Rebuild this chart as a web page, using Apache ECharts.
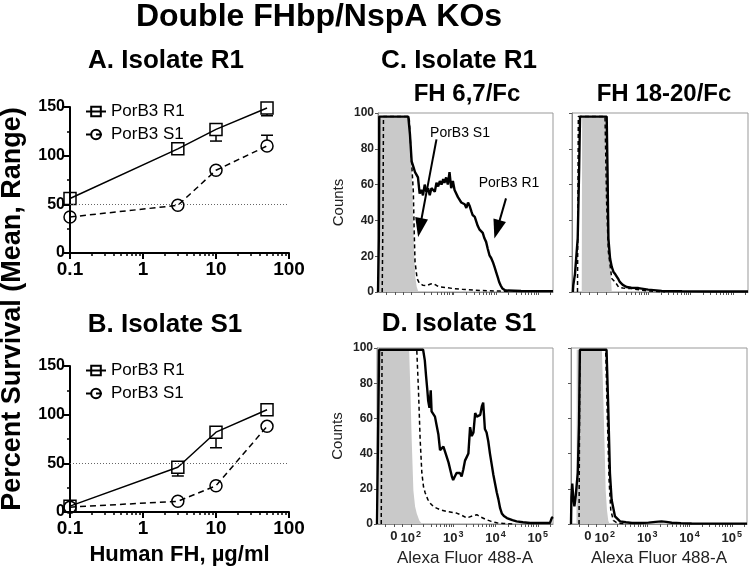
<!DOCTYPE html>
<html>
<head>
<meta charset="utf-8">
<script src="https://cdn.jsdelivr.net/npm/echarts@6/dist/echarts.min.js"></script>
<style>
html,body{margin:0;padding:0;background:#fff;}
#c{width:750px;height:571px;}
</style>
</head>
<body>
<div id="c"></div>
<script>
// ---------- Data: panels A/B (bactericidal survival) ----------
const fhConc = [0.1, 3, 10, 50];
const aR1 = [56, 107, 127, 149];
const aR1Lo = [56, 107, 115, 141];
const aR1Hi = [56, 107, 127, 149];
const aS1 = [37, 49, 85, 110];
const aS1Lo = [37, 49, 85, 110];
const aS1Hi = [37, 55, 85, 121];
const bR1 = [6, 46, 82, 105];
const bR1Lo = [6, 37, 66, 105];
const bR1Hi = [6, 46, 82, 105];
const bS1 = [5, 11, 27, 88];
const bS1Lo = [5, 11, 21, 88];
const bS1Hi = [5, 11, 33, 88];
const survivalTicks = [0, 50, 100, 150];
const thresholdLine = 50;

// ---------- Data: flow histograms (x in display decades, y = counts) ----------
const cLeftR1 = [[1.2,0],[1.22,30],[1.23,98],[1.92,98],[1.96,88],[2.0,73],[2.04,70],[2.08,67],[2.12,66],[2.15,64],[2.19,55],[2.23,57],[2.27,54],[2.31,60],[2.35,56],[2.39,58],[2.43,54],[2.47,58],[2.51,59],[2.55,56],[2.59,61],[2.63,59],[2.67,62],[2.71,60],[2.75,63],[2.78,61],[2.82,64],[2.86,60],[2.9,67],[2.94,58],[2.98,62],[3.02,57],[3.06,56],[3.1,53],[3.14,52],[3.18,50],[3.22,51],[3.26,49],[3.3,47],[3.34,50],[3.38,48],[3.42,45],[3.45,43],[3.5,42],[3.53,41],[3.57,37],[3.61,35],[3.65,34],[3.69,33],[3.73,30],[3.77,28],[3.81,24],[3.85,20.5],[3.89,19],[3.93,16.8],[3.97,14],[4.01,11],[4.05,8],[4.08,5.6],[4.12,3.5],[4.16,1.9],[4.22,1.0],[4.28,0.8],[4.6,0.6],[5.0,0.5],[5.36,0.5]];
const cLeftS1 = [[1.3,0],[1.32,50],[1.33,98],[1.94,98],[1.98,80],[2.0,72],[2.04,56],[2.06,34],[2.08,17],[2.13,7.5],[2.18,5],[2.27,3.7],[2.35,3.5],[2.45,4.5],[2.52,4.7],[2.6,3.5],[2.68,2.8],[2.8,2.5],[3.0,1.9],[3.2,1.5],[3.5,1.0],[3.8,0.7],[4.1,0.5],[4.3,0.3]];
const cLeftCtrl = [[1.22,0],[1.23,98],[1.96,98],[2.0,70],[2.03,45],[2.06,20],[2.09,8],[2.12,3],[2.16,0]];
const cRightR1 = [[1.22,0],[1.23,3.7],[1.27,10],[1.335,30],[1.37,70],[1.39,98],[2.02,98],[2.04,67],[2.06,30],[2.1,18.7],[2.14,14],[2.18,11.2],[2.22,10],[2.26,9.3],[2.3,7],[2.33,5.6],[2.4,4],[2.49,2.8],[2.6,2.4],[2.77,2.2],[3.0,1.3],[3.32,0.6],[3.8,0.4],[4.5,0.3],[5.36,0.3]];
const cRightS1 = [[1.33,0],[1.34,50],[1.35,98],[1.98,98],[2.02,48.5],[2.06,22.4],[2.14,7.5],[2.18,6.5],[2.22,5.6],[2.3,2.8],[2.4,2.2],[2.6,1.9],[2.9,0.8],[3.2,0.3],[3.4,0]];
const cRightCtrl = [[1.43,0],[1.44,98],[2.03,98],[2.06,60],[2.09,25],[2.12,8],[2.14,0]];
const dLeftR1 = [[1.2,0],[1.23,60],[1.25,99],[2.29,99],[2.33,93],[2.36,84],[2.39,76],[2.41,70],[2.44,66],[2.47,76],[2.49,64],[2.53,63],[2.57,61],[2.61,56],[2.65,51],[2.69,42],[2.73,43],[2.77,44],[2.81,41],[2.85,40],[2.89,35],[2.93,31],[2.97,27],[3.0,25],[3.04,27],[3.08,29],[3.12,28],[3.16,29],[3.2,27],[3.24,31],[3.28,36],[3.32,38],[3.36,40],[3.4,55],[3.44,50],[3.48,52],[3.52,63],[3.56,61],[3.6,61],[3.64,62],[3.68,67],[3.71,69],[3.75,54],[3.79,52],[3.83,47],[3.87,40],[3.91,34],[3.95,28],[3.99,23],[4.03,18],[4.07,14],[4.11,9],[4.15,6],[4.2,4.5],[4.27,3.4],[4.4,2.2],[4.5,1.5],[4.65,1],[4.82,0.6],[5.1,0.6],[5.29,0.6],[5.33,3.4],[5.36,4]];
const dLeftS1 = [[1.3,0],[1.31,50],[1.32,99],[2.14,99],[2.18,76],[2.22,48],[2.26,29],[2.3,21],[2.34,17.6],[2.4,14],[2.45,12],[2.53,10],[2.61,9],[2.7,8],[2.85,7.1],[3.0,6.5],[3.08,6.2],[3.2,5],[3.32,3.4],[3.45,4.5],[3.56,5.3],[3.65,4],[3.79,2.4],[3.9,1.5],[4.03,0.7],[4.2,0.3],[4.4,0]];
const dLeftCtrl = [[1.25,0],[1.26,99],[1.96,99],[1.99,75],[2.02,48],[2.06,19],[2.1,10],[2.14,6],[2.2,2],[2.26,0]];
const dRightR1 = [[1.2,0],[1.21,15],[1.23,23],[1.25,16],[1.28,10],[1.31,15.6],[1.36,29],[1.39,57],[1.41,99],[2.04,99],[2.08,66.6],[2.12,29],[2.16,13.8],[2.24,4.3],[2.36,1.5],[2.5,1],[2.64,0.6],[2.85,0.6],[3.03,0.8],[3.2,1.2],[3.34,1.5],[3.45,1.2],[3.58,0.7],[3.8,0.5],[4.05,0.3],[4.5,0.2],[5.36,0.2]];
const dRightS1 = [[1.39,0],[1.4,50],[1.41,99],[2.02,99],[2.06,60],[2.1,25],[2.14,8],[2.2,2],[2.3,0.5],[2.5,0]];
const dRightCtrl = [[1.33,0],[1.335,99],[1.93,99],[1.96,75],[1.99,48],[2.02,19],[2.05,8],[2.08,2],[2.11,0]];
const flowLabelPos = [1.6, 2, 3, 4, 5];
const flowLabelText = ['0', '2', '3', '4', '5'];
const flowMinorPos = [1.4, 1.8, 2.301, 2.477, 2.602, 2.699, 2.778, 2.845, 2.903, 2.954, 3.301, 3.477, 3.602, 3.699, 3.778, 3.845, 3.903, 3.954, 4.301, 4.477, 4.602, 4.699, 4.778, 4.845, 4.903, 4.954, 5.301];
const logMinorTicks = [0.2,0.3,0.4,0.5,0.6,0.7,0.8,0.9,2,3,4,5,6,7,8,9,20,30,40,50,60,70,80,90];
// arrows (tail -> head) in panel C-left data units
const arrowS1 = [[2.59, 85.3], [2.195, 36]];
const arrowR1 = [[4.243, 52.3], [4.03, 35]];

const FONT = 'Liberation Sans, Arial, Helvetica, sans-serif';
const chart = echarts.init(document.getElementById('c'), null, {renderer: 'canvas'});

function errItem(params, api) {
  const x = api.value(0), m = api.value(1), lo = api.value(2), hi = api.value(3);
  const c = api.coord([x, m]);
  const half = 6, cap = 6;
  const st = {stroke: '#000', lineWidth: 1.5};
  const ch = [];
  if (lo < m) {
    const p = api.coord([x, lo]);
    if (p[1] > c[1] + half) {
      ch.push({type: 'line', shape: {x1: c[0], y1: c[1] + half, x2: p[0], y2: p[1]}, style: st});
      ch.push({type: 'line', shape: {x1: p[0] - cap, y1: p[1], x2: p[0] + cap, y2: p[1]}, style: st});
    }
  }
  if (hi > m) {
    const p = api.coord([x, hi]);
    if (p[1] < c[1] - half) {
      ch.push({type: 'line', shape: {x1: c[0], y1: c[1] - half, x2: p[0], y2: p[1]}, style: st});
      ch.push({type: 'line', shape: {x1: p[0] - cap, y1: p[1], x2: p[0] + cap, y2: p[1]}, style: st});
    }
  }
  return {type: 'group', children: ch};
}

function survXMajor(grid, showName) {
  return {
    type: 'log', gridIndex: grid, logBase: 10, min: 0.1, max: 100, position: 'bottom',
    axisLine: {lineStyle: {color: '#000', width: 2}},
    axisTick: {length: 6, lineStyle: {color: '#000', width: 2}},
    axisLabel: {fontSize: 19, fontWeight: 'bold', color: '#000', fontFamily: FONT, margin: 7},
    splitLine: {show: false},
    name: showName ? 'Human FH, µg/ml' : '',
    nameLocation: 'middle', nameGap: 32,
    nameTextStyle: {fontSize: 22, fontWeight: 'bold', color: '#000', fontFamily: FONT}
  };
}
function survXMinor(grid) {
  return {
    type: 'log', gridIndex: grid, logBase: 10, min: 0.1, max: 100, position: 'bottom', offset: 0,
    axisLine: {show: false},
    axisTick: {customValues: logMinorTicks, length: 3, lineStyle: {color: '#000', width: 1.5}},
    axisLabel: {show: false},
    splitLine: {show: false}
  };
}
function survY(grid) {
  return {
    type: 'value', gridIndex: grid, min: 0, max: 150, interval: 50,
    axisLine: {show: true, lineStyle: {color: '#000', width: 2}},
    axisTick: {show: true, length: 6, lineStyle: {color: '#000', width: 2}},
    minorTick: {show: true, splitNumber: 2, length: 3, lineStyle: {color: '#000', width: 1.5}},
    axisLabel: {fontSize: 16, fontWeight: 'bold', color: '#000', fontFamily: FONT, margin: 5,
      customValues: survivalTicks},
    splitLine: {show: false}
  };
}
function flowX(grid, labels) {
  return {
    type: 'value', gridIndex: grid, min: 1.2, max: 5.36, position: 'bottom',
    axisLine: {lineStyle: {color: '#888', width: 1}},
    axisTick: {customValues: flowLabelPos.concat(flowMinorPos), length: 3, lineStyle: {color: '#555', width: 1}},
    axisLabel: {
      show: labels, customValues: flowLabelPos, margin: 6,
      formatter: function (v) {
        const i = flowLabelPos.indexOf(v);
        const t = flowLabelText[i];
        return i === 0 ? '{b|' + t + '}' : '{b|10}{s|' + t + '}';
      },
      rich: {
        b: {fontSize: 13, fontWeight: 'bold', color: '#222', fontFamily: FONT},
        s: {fontSize: 9, fontWeight: 'bold', color: '#222', fontFamily: FONT, padding: [0, 0, 8, 1]}
      }
    },
    splitLine: {show: false},
    name: labels ? 'Alexa Fluor 488-A' : '',
    nameLocation: 'middle', nameGap: 26,
    nameTextStyle: {fontSize: 17, color: '#222', fontFamily: FONT}
  };
}
function flowY(grid, labels) {
  return {
    type: 'value', gridIndex: grid, min: 0, max: 100, interval: 20,
    axisLine: {show: true, lineStyle: {color: '#888', width: 1}},
    axisTick: {show: true, length: 3, lineStyle: {color: '#555', width: 1}},
    axisLabel: {show: labels, fontSize: 12, fontWeight: 'bold', color: '#222', fontFamily: FONT, margin: 4},
    splitLine: {show: false},
    name: labels ? 'Counts' : '',
    nameLocation: 'middle', nameGap: 32,
    nameTextStyle: {fontSize: 15, color: '#222', fontFamily: FONT}
  };
}

function survLine(name, data, x, y, dashed, sym) {
  return {
    type: 'line', name: name, xAxisIndex: x, yAxisIndex: y,
    data: fhConc.map((c, i) => [c, data[i]]),
    symbol: sym, symbolSize: 12, z: 3,
    lineStyle: {color: '#000', width: 1.5, type: dashed ? [6, 4] : 'solid'},
    itemStyle: {color: 'rgba(255,255,255,0)', borderColor: '#000', borderWidth: 1.5},
    emphasis: {disabled: true}, animation: false
  };
}
function errSeries(mean, lo, hi, x, y) {
  return {
    type: 'custom', xAxisIndex: x, yAxisIndex: y, renderItem: errItem, z: 4,
    encode: {x: 0, y: 1},
    data: fhConc.map((c, i) => [c, mean[i], lo[i], hi[i]]), animation: false, silent: true
  };
}
function histo(data, x, y, kind) {
  const s = {type: 'line', data: data, xAxisIndex: x, yAxisIndex: y, symbol: 'none', animation: false, silent: true};
  if (kind === 'ctrl') {
    s.lineStyle = {width: 0};
    s.areaStyle = {color: '#c9c9c9', opacity: 1};
    s.z = 1;
  } else if (kind === 'dash') {
    s.lineStyle = {color: '#000', width: 1.5, type: [4, 3]};
    s.z = 3;
  } else {
    s.lineStyle = {color: '#000', width: 2.4};
    s.z = 4;
  }
  return s;
}

const threshold = {
  silent: true, symbol: 'none', label: {show: false},
  lineStyle: {color: '#666', width: 1, type: [1, 2]},
  data: [{yAxis: thresholdLine}]
};

const sAR1 = survLine('PorB3 R1', aR1, 0, 0, false, 'rect');
sAR1.markLine = threshold;
const sBR1 = survLine('PorB3 R1', bR1, 2, 1, false, 'rect');
sBR1.markLine = threshold;

const cl = histo(cLeftR1, 4, 2, 'solid');
cl.markLine = {
  silent: true, symbol: ['none', 'triangle'], symbolSize: [13, 19], label: {show: false},
  lineStyle: {color: '#000', width: 2, type: 'solid'},
  data: [
    [{coord: arrowS1[0]}, {coord: arrowS1[1]}],
    [{coord: arrowR1[0]}, {coord: arrowR1[1]}]
  ]
};

function txt(t, x, y, size, weight, extra) {
  return Object.assign({
    type: 'text', x: x, y: y,
    style: {text: t, fontSize: size, fontWeight: weight, fontFamily: FONT, fill: '#000', align: 'center', verticalAlign: 'middle'}
  }, extra || {});
}

const option = {
  backgroundColor: '#fff',
  animation: false,
  textStyle: {fontFamily: FONT},
  grid: [
    {left: 70, top: 107, width: 219, height: 146},
    {left: 70, top: 366, width: 219, height: 146},
    {left: 378, top: 113, width: 175, height: 179, show: true, borderColor: '#999', borderWidth: 1},
    {left: 572, top: 113, width: 176, height: 179, show: true, borderColor: '#999', borderWidth: 1},
    {left: 377, top: 348, width: 176, height: 176, show: true, borderColor: '#999', borderWidth: 1},
    {left: 571, top: 348, width: 176, height: 176, show: true, borderColor: '#999', borderWidth: 1}
  ],
  xAxis: [
    survXMajor(0, false), survXMinor(0),
    survXMajor(1, true), survXMinor(1),
    flowX(2, false), flowX(3, false), flowX(4, true), flowX(5, true)
  ],
  yAxis: [
    survY(0), survY(1),
    flowY(2, true), flowY(3, false), flowY(4, true), flowY(5, false)
  ],
  legend: [
    {data: ['PorB3 R1', 'PorB3 S1'], orient: 'vertical', left: 80, top: 98, itemWidth: 20, itemHeight: 12, itemGap: 6,
      selectedMode: false, textStyle: {fontSize: 17, color: '#000', fontFamily: FONT, lineHeight: 17}},
    {data: ['PorB3 R1', 'PorB3 S1'], orient: 'vertical', left: 80, top: 357, itemWidth: 20, itemHeight: 12, itemGap: 6,
      selectedMode: false, textStyle: {fontSize: 17, color: '#000', fontFamily: FONT, lineHeight: 17}}
  ],
  series: [
    sAR1,
    survLine('PorB3 S1', aS1, 0, 0, true, 'circle'),
    errSeries(aR1, aR1Lo, aR1Hi, 0, 0),
    errSeries(aS1, aS1Lo, aS1Hi, 0, 0),
    sBR1,
    survLine('PorB3 S1', bS1, 2, 1, true, 'circle'),
    errSeries(bR1, bR1Lo, bR1Hi, 2, 1),
    errSeries(bS1, bS1Lo, bS1Hi, 2, 1),
    histo(cLeftCtrl, 4, 2, 'ctrl'), histo(cLeftS1, 4, 2, 'dash'), cl,
    histo(cRightCtrl, 5, 3, 'ctrl'), histo(cRightS1, 5, 3, 'dash'), histo(cRightR1, 5, 3, 'solid'),
    histo(dLeftCtrl, 6, 4, 'ctrl'), histo(dLeftS1, 6, 4, 'dash'), histo(dLeftR1, 6, 4, 'solid'),
    histo(dRightCtrl, 7, 5, 'ctrl'), histo(dRightS1, 7, 5, 'dash'), histo(dRightR1, 7, 5, 'solid')
  ],
  graphic: [
    txt('Double FHbp/NspA KOs', 319, 17, 32, 'bold'),
    txt('A. Isolate R1', 166, 61, 26, 'bold'),
    txt('B. Isolate S1', 165, 325, 26, 'bold'),
    txt('C. Isolate R1', 459, 61, 26, 'bold'),
    txt('D. Isolate S1', 459, 324, 26, 'bold'),
    txt('FH 6,7/Fc', 467, 94, 24, 'bold'),
    txt('FH 18-20/Fc', 664, 94, 24, 'bold'),
    txt('PorB3 S1', 460, 133, 14, 'normal'),
    txt('PorB3 R1', 509, 183, 14, 'normal'),
    txt('Percent Survival (Mean, Range)', 13, 309, 27, 'bold', {rotation: Math.PI / 2})
  ]
};
chart.setOption(option);
</script>
</body>
</html>
